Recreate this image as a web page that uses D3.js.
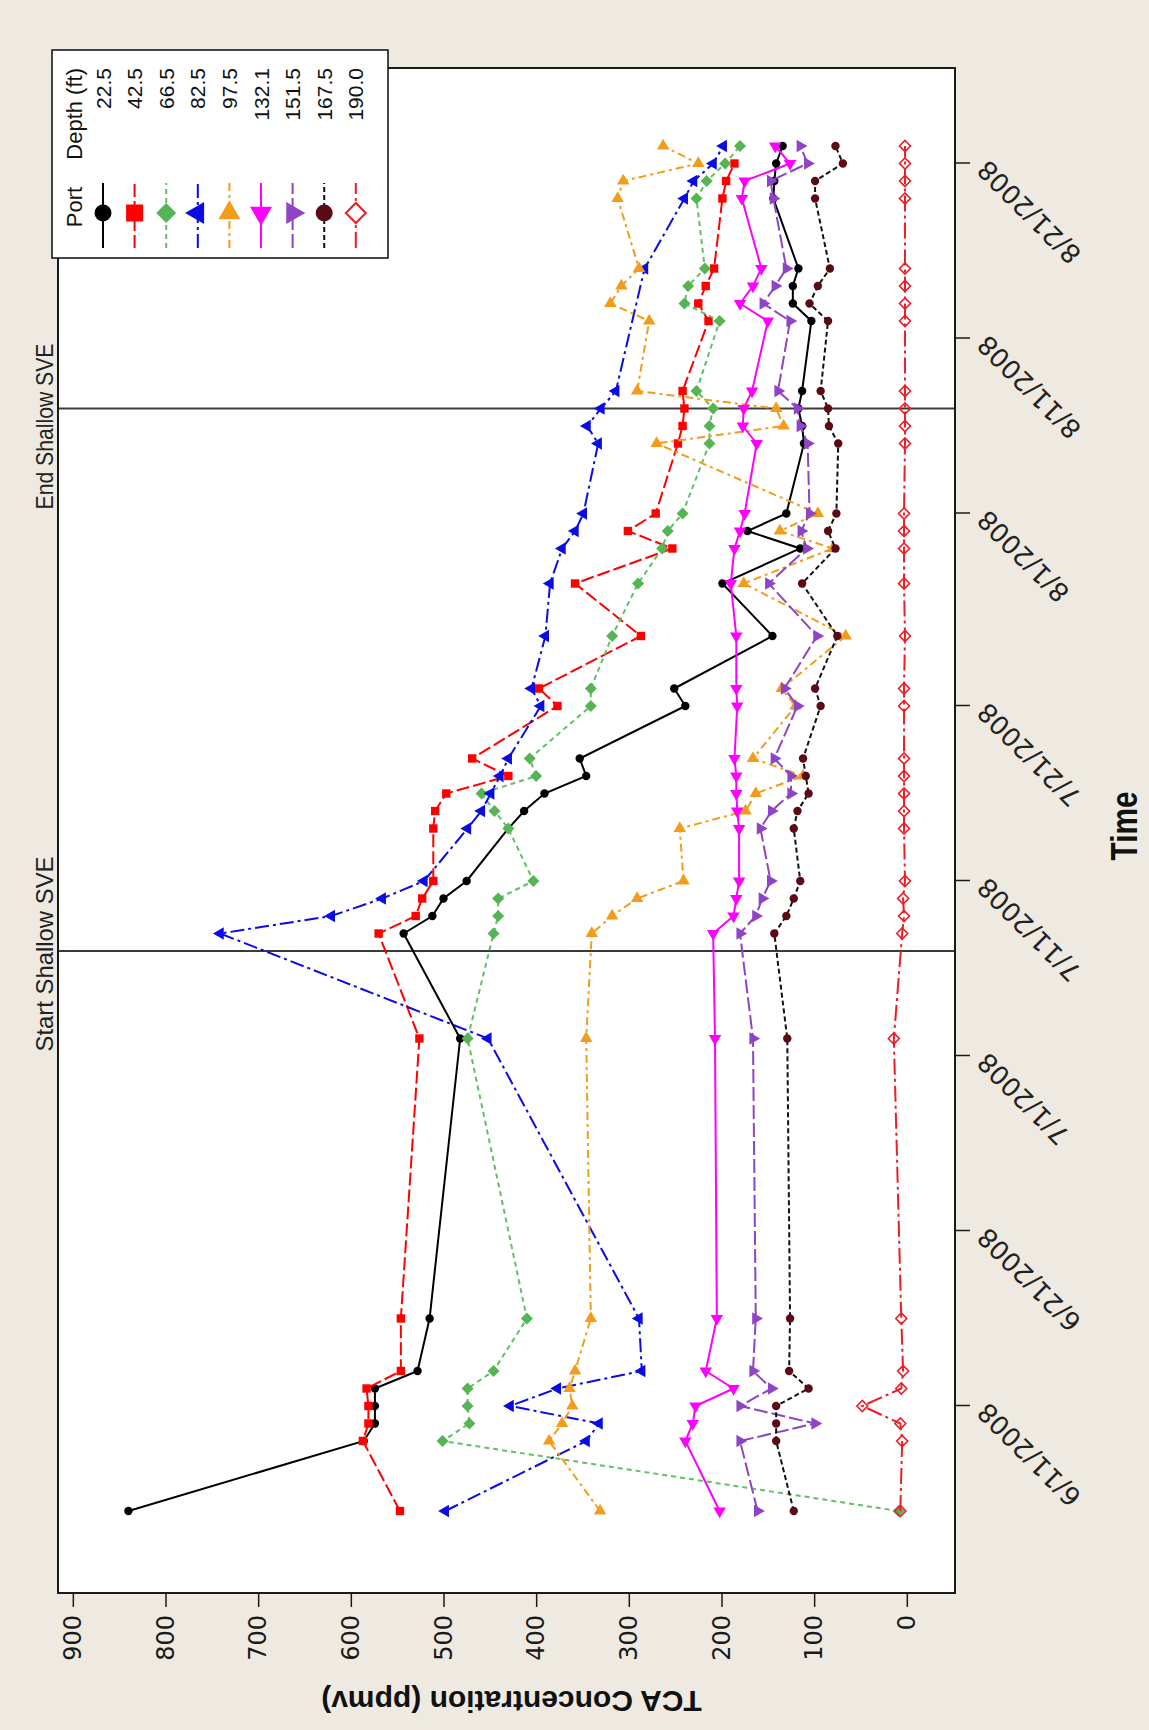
<!DOCTYPE html>
<html>
<head>
<meta charset="utf-8">
<script src="https://cdn.jsdelivr.net/npm/d3@7"></script>
<style>
  html, body { margin: 0; padding: 0; background: #eeeae1; }
  svg { display: block; }
</style>
</head>
<body>
<svg id="chart" width="1149" height="1730"></svg>
<script>
// ---- data -------------------------------------------------------------
const sampleDates = [
  "2008-06-05","2008-06-09","2008-06-10","2008-06-11","2008-06-12","2008-06-13","2008-06-16",
  "2008-07-02","2008-07-08","2008-07-09","2008-07-10","2008-07-11","2008-07-14","2008-07-15",
  "2008-07-16","2008-07-17","2008-07-18","2008-07-21","2008-07-22","2008-07-25","2008-07-28",
  "2008-07-30","2008-07-31","2008-08-01","2008-08-05","2008-08-06","2008-08-07","2008-08-08",
  "2008-08-12","2008-08-13","2008-08-14","2008-08-15","2008-08-19","2008-08-20","2008-08-21",
  "2008-08-22"
];

// TCA concentration (ppmv) by port depth; null = no sample
const port22_5 = [840,586,574,574,574,528,515,482,543,512,500,475,430,413,391,346,353,239,251,145,199,115,172,130,111,113,117,113,103,123,123,117,144,143,141,134];
const port42_5 = [547,587,581,581,583,546,546,526,570,530,523,511,511,509,497,430,469,377,397,287,358,253,301,271,247,242,240,242,214,225,217,208,199,195,186,null];
const port66_5 = [9,501,472,474,474,446,410,474,446,441,441,403,430,445,459,400,407,341,341,318,290,264,258,242,213,213,209,227,202,240,236,218,227,216,196,180];
const port82_5 = [498,346,332,428,377,286,289,452,741,621,566,521,474,459,449,439,430,395,405,390,385,372,358,349,333,345,330,314,null,null,null,283,240,230,209,198];
const port97_5 = [331,386,372,361,364,358,341,346,340,318,291,241,245,174,163,112,166,120,135,66,176,80,137,96,270,133,141,291,278,320,308,289,312,306,225,263];
const port132_1 = [202,239,231,228,187,217,205,207,209,187,184,181,181,183,184,184,186,183,184,184,190,186,180,175,162,177,176,167,150,180,166,157,178,175,126,142];
const port151_5 = [161,180,99,180,146,166,163,166,180,163,156,147,158,146,125,125,143,118,132,97,149,108,114,105,107,115,118,139,126,155,142,130,144,147,107,115];
const port167_5 = [122,141,141,141,106,127,126,129,143,130,122,115,122,118,106,109,112,93,99,75,113,77,85,76,74,84,85,93,85,105,96,83,99,99,69,77];
const port190_0 = [7,5,7,48,6,4,6,14,5,3,4,2,3,3,3,3,3,3,3,2,3,3,3,3,2,2,2,2,2,2,2,2,2,2,2,2];

const depthLabels = ["22.5","42.5","66.5","82.5","97.5","132.1","151.5","167.5","190.0"];
const concentrationTicks = [0,100,200,300,400,500,600,700,800,900];
const timeTickLabels = ["6/11/2008","6/21/2008","7/1/2008","7/11/2008","7/21/2008","8/1/2008","8/11/2008","8/21/2008"];
const events = [
  { date: "2008-07-07", label: "Start Shallow SVE" },
  { date: "2008-08-07", label: "End Shallow SVE" }
];

// ---- styling per port -------------------------------------------------
const portStyles = [
  { stroke: "#000000", dash: null,         shape: "circle",   rot: 0,   fill: "#000000", mstroke: "none" },
  { stroke: "#ff0000", dash: "13,4",       shape: "square",   rot: 0,   fill: "#ff0000", mstroke: "none" },
  { stroke: "#62bf62", dash: "5,4",        shape: "diamond",  rot: 0,   fill: "#55b555", mstroke: "none" },
  { stroke: "#0b0be6", dash: "14,4,3,4",   shape: "triangle", rot: 0,   fill: "#0b0be6", mstroke: "none" },
  { stroke: "#f39c1b", dash: "8,4,3,4",    shape: "triangle", rot: 90,  fill: "#f39c1b", mstroke: "none" },
  { stroke: "#ff00ff", dash: null,         shape: "triangle", rot: -90, fill: "#ff00ff", mstroke: "none" },
  { stroke: "#8e44c4", dash: "14,4",       shape: "triangle", rot: 180, fill: "#8e44c4", mstroke: "none" },
  { stroke: "#111111", dash: "5,3",        shape: "circle",   rot: 0,   fill: "#5b0a16", mstroke: "none" },
  { stroke: "#ee1c24", dash: "16,4,3,4",   shape: "diamond",  rot: 0,   fill: "none",    mstroke: "#ee1c24" }
];
const portValues = [port22_5, port42_5, port66_5, port82_5, port97_5, port132_1, port151_5, port167_5, port190_0];

const ports = depthLabels.map((label, i) => ({
  label,
  style: portStyles[i],
  points: sampleDates
    .map((d, j) => ({ date: new Date(d + "T00:00:00Z"), v: portValues[i][j] }))
    .filter(p => p.v != null)
}));

// ---- layout -----------------------------------------------------------
// The chart is laid out in a landscape frame (time across, concentration up)
// and the whole frame is turned a quarter turn counter-clockwise on the page.
const W = 1149, H = 1730;
const frame = { left: 137, right: 1662, top: 58, bottom: 955 };
const DAY = 864e5;
const t0 = Date.UTC(2008, 5, 11);

const svg = d3.select("#chart");
svg.append("rect").attr("width", W).attr("height", H).attr("fill", "#eeeae1");

const g = svg.append("g").attr("transform", `translate(0,${H}) rotate(-90)`);

const x = d3.scaleUtc()
  .domain([new Date(t0 - 10.686 * DAY), new Date(t0 + 76.457 * DAY)])
  .range([frame.left, frame.right]);
const y = d3.scaleLinear()
  .domain([-52, 916])
  .range([frame.bottom, frame.top]);

// plot background
g.append("rect")
  .attr("x", frame.left).attr("y", frame.top)
  .attr("width", frame.right - frame.left).attr("height", frame.bottom - frame.top)
  .attr("fill", "#ffffff");

// event lines
events.forEach(e => {
  const ex = x(new Date(e.date + "T00:00:00Z"));
  g.append("line")
    .attr("x1", ex).attr("x2", ex)
    .attr("y1", frame.top).attr("y2", frame.bottom)
    .attr("stroke", "#3a3a3a").attr("stroke-width", 1.8);
});
const eventLabelShift = [-3, -18];
const eventLabelLength = [195, 166];
events.forEach((e, i) => {
  const ex = x(new Date(e.date + "T00:00:00Z"));
  g.append("text")
    .attr("x", ex + eventLabelShift[i]).attr("y", 53)
    .attr("text-anchor", "middle")
    .attr("font-family", "'Liberation Sans Narrow', 'Liberation Sans', Arial, sans-serif")
    .attr("font-size", 24)
    .attr("textLength", eventLabelLength[i])
    .attr("lengthAdjust", "spacingAndGlyphs")
    .attr("fill", "#222")
    .text(e.label);
});

// symbols
function symbolPath(shape, s) {
  if (shape === "circle") return d3.symbol(d3.symbolCircle, Math.PI * s * s)();
  if (shape === "square") return `M${-s},${-s}h${2 * s}v${2 * s}h${-2 * s}Z`;
  if (shape === "diamond") return `M0,${-s}L${s},0L0,${s}L${-s},0Z`;
  const h = s * 0.866;
  return `M0,${-2 * h / 3}L${s / 2},${h / 3}L${-s / 2},${h / 3}Z`;
}
const markerSize = { circle: 4.2, square: 4.2, diamond: 6, triangle: 12.5 };
const legendMarkerSize = { circle: 8.5, square: 8.5, diamond: 10, triangle: 22 };

const line = d3.line().x(d => x(d.date)).y(d => y(d.v));

ports.forEach((p, i) => {
  const st = p.style;
  const sg = g.append("g").attr("class", "port");
  sg.append("path")
    .attr("d", line(p.points))
    .attr("fill", "none")
    .attr("stroke", st.stroke)
    .attr("stroke-width", 2)
    .attr("stroke-dasharray", st.dash);
  sg.selectAll("path.mark")
    .data(p.points)
    .join("path")
    .attr("class", "mark")
    .attr("d", symbolPath(st.shape, st.fill === "none" ? 5.5 : markerSize[st.shape]))
    .attr("transform", d => `translate(${x(d.date)},${y(d.v)}) rotate(${st.rot})`)
    .attr("fill", st.fill)
    .attr("stroke", st.mstroke)
    .attr("stroke-width", 1.6);
});

// frame
g.append("rect")
  .attr("x", frame.left).attr("y", frame.top)
  .attr("width", frame.right - frame.left).attr("height", frame.bottom - frame.top)
  .attr("fill", "none").attr("stroke", "#1a1a1a").attr("stroke-width", 2);

// concentration axis
const yAxis = g.append("g")
  .attr("transform", `translate(${frame.left},0)`)
  .call(d3.axisLeft(y).tickValues(concentrationTicks).tickSize(14).tickPadding(8).tickSizeOuter(0));
yAxis.select(".domain").remove();
yAxis.selectAll(".tick line").attr("stroke", "#1a1a1a").attr("stroke-width", 1.5);
yAxis.selectAll(".tick text")
  .attr("font-family", "'DejaVu Sans', Verdana, sans-serif")
  .attr("font-size", 24)
  .attr("fill", "#1a1a1a");

// time axis
const tickDates = timeTickLabels.map(s => {
  const [m, d, yr] = s.split("/").map(Number);
  return new Date(Date.UTC(yr, m - 1, d));
});
const xAxis = g.append("g")
  .attr("transform", `translate(0,${frame.bottom})`)
  .call(d3.axisBottom(x).tickValues(tickDates).tickSize(15).tickSizeOuter(0)
    .tickFormat((d, i) => timeTickLabels[i]));
xAxis.select(".domain").remove();
xAxis.selectAll(".tick line").attr("stroke", "#1a1a1a").attr("stroke-width", 1.5);
xAxis.selectAll(".tick text")
  .attr("x", 0).attr("y", 0).attr("dy", "0.35em")
  .attr("transform", "translate(-2,27) rotate(-45)")
  .attr("text-anchor", "end")
  .attr("font-family", "'DejaVu Sans', Verdana, sans-serif")
  .attr("font-size", 26)
  .attr("fill", "#222");

// axis titles
g.append("text")
  .attr("transform", `translate(39,${(frame.top + frame.bottom) / 2 + 5}) rotate(-90)`)
  .attr("text-anchor", "middle")
  .attr("font-family", "'Liberation Sans', Arial, sans-serif")
  .attr("font-weight", "bold")
  .attr("font-size", 30)
  .attr("fill", "#111")
  .text("TCA Concentration (ppmv)");

g.append("text")
  .attr("x", 904).attr("y", 1137)
  .attr("text-anchor", "middle")
  .attr("font-family", "'Liberation Sans Narrow', 'Liberation Sans', Arial, sans-serif")
  .attr("font-weight", "bold")
  .attr("font-size", 36)
  .attr("textLength", 69)
  .attr("lengthAdjust", "spacingAndGlyphs")
  .attr("fill", "#111")
  .text("Time");

// legend
const lg = g.append("g");
lg.append("rect")
  .attr("x", 1472).attr("y", 52).attr("width", 208).attr("height", 336)
  .attr("fill", "#ffffff").attr("stroke", "#1a1a1a").attr("stroke-width", 1.6);
const legendFont = "'Liberation Sans', Arial, sans-serif";
lg.append("text").attr("x", 1523).attr("y", 82).attr("text-anchor", "middle")
  .attr("font-family", legendFont).attr("font-size", 22).attr("fill", "#111").text("Port");
lg.append("text").attr("x", 1662).attr("y", 82).attr("text-anchor", "end")
  .attr("font-family", legendFont).attr("font-size", 22).attr("fill", "#111").text("Depth (ft)");

ports.forEach((p, i) => {
  const st = p.style;
  const ry = 103 + 31.6 * i;
  lg.append("line")
    .attr("x1", 1482).attr("x2", 1547).attr("y1", ry).attr("y2", ry)
    .attr("stroke", st.stroke).attr("stroke-width", 2)
    .attr("stroke-dasharray", st.dash);
  lg.append("path")
    .attr("d", symbolPath(st.shape, legendMarkerSize[st.shape]))
    .attr("transform", `translate(1517,${ry}) rotate(${st.rot})`)
    .attr("fill", st.fill === "none" ? "#ffffff" : st.fill)
    .attr("stroke", st.mstroke).attr("stroke-width", 2);
  lg.append("text")
    .attr("x", 1662).attr("y", ry + 7.5)
    .attr("text-anchor", "end")
    .attr("font-family", legendFont).attr("font-size", 21).attr("fill", "#111")
    .text(p.label);
});
</script>
</body>
</html>
